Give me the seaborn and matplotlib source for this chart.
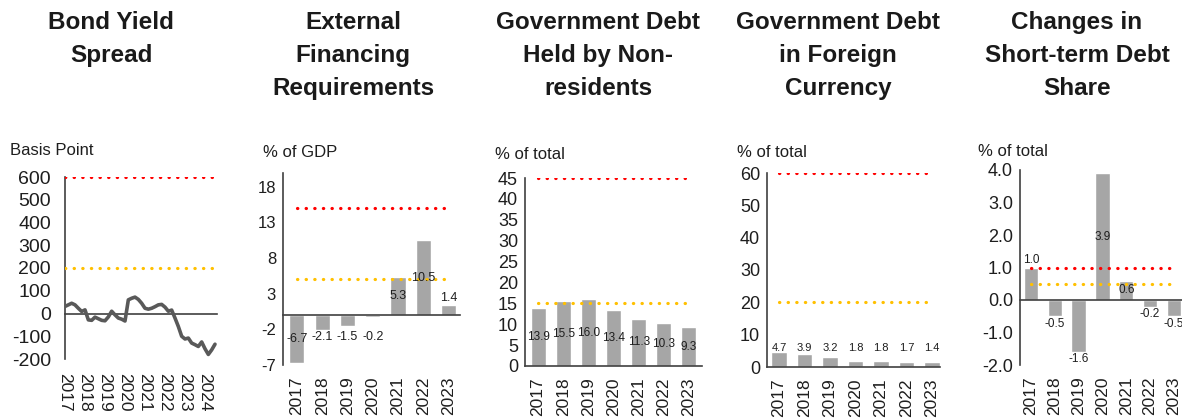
import numpy as np
import pandas as pd
import matplotlib
matplotlib.use("Agg")
import matplotlib.pyplot as plt
import seaborn as sns

sns.set_theme(style="white")
plt.rcParams["font.family"] = ["Liberation Sans", "DejaVu Sans"]
plt.rcParams["axes.unicode_minus"] = False

# ---------------- data ----------------
spread_dates = pd.date_range("2017-01-01", periods=46, freq="2MS")
spread_bp = [31, 38, 45, 38, 23, 9, 16, -28, -30, -16, -23, -30,
             -32, -15, 10, -6, -20, -25, -33, 60, 67, 72, 62, 45,
             23, 19, 23, 30, 38, 40, 28, 10, 15, -20, -57, -100,
             -112, -108, -130, -137, -145, -125, -155, -180, -160, -135]
spread_years = [2017, 2018, 2019, 2020, 2021, 2022, 2023, 2024]
spread_thresholds = [600, 200]

years = ["2017", "2018", "2019", "2020", "2021", "2022", "2023"]
efr = [-6.7, -2.1, -1.5, -0.2, 5.3, 10.5, 1.4]
efr_thresholds = [15, 5]
nonres = [13.9, 15.5, 16.0, 13.4, 11.3, 10.3, 9.3]
nonres_thresholds = [45, 15]
fxdebt = [4.7, 3.9, 3.2, 1.8, 1.8, 1.7, 1.4]
fxdebt_thresholds = [60, 20]
stshare = [1.0, -0.5, -1.6, 3.9, 0.6, -0.2, -0.5]
stshare_thresholds = [1.0, 0.5]

titles = ["Bond Yield\nSpread",
          "External\nFinancing\nRequirements",
          "Government Debt\nHeld by Non-\nresidents",
          "Government Debt\nin Foreign\nCurrency",
          "Changes in\nShort-term Debt\nShare"]
units = ["Basis Point", "% of GDP", "% of total", "% of total", "% of total"]

# ---------------- style ----------------
W, H = 1182, 420
BAR = "#A6A6A6"
LINE = "#595959"
RED = "#FF0000"
YEL = "#FFC000"
SPINE = "#404040"
TXT = "#1e1e1e"
THR_COLORS = [RED, YEL]

fig = plt.figure(figsize=(W / 100, H / 100), dpi=100)


def px_axes(l, r, top, bot):
    return fig.add_axes([l / W, 1 - bot / H, (r - l) / W, (bot - top) / H])


def style_axes(ax, ytick_size):
    for s in ["top", "right"]:
        ax.spines[s].set_visible(False)
    ax.spines["left"].set_color(SPINE)
    ax.spines["left"].set_linewidth(1.2)
    ax.spines["bottom"].set_color(SPINE)
    ax.spines["bottom"].set_linewidth(1.2)
    ax.spines["bottom"].set_position(("data", 0))
    ax.tick_params(axis="y", direction="out", length=3, width=1, color=SPINE,
                   labelsize=ytick_size, labelcolor=TXT, pad=2)
    ax.tick_params(axis="x", which="both", labelbottom=False)
    ax.set_xlabel("")
    ax.set_ylabel("")
    ax.grid(False)
    ax.set_facecolor("none")


def dotted(ax, y, x0=None, x1=None, color=RED):
    kw = dict(color=color, lw=2.3, linestyle=(0, (0.1, 2.6)),
              dash_capstyle="round", zorder=5)
    if x0 is None:
        ax.axhline(y, **kw)
    else:
        ax.plot([x0, x1], [y, y], **kw)


def cat_xaxis(ax, labels, xlim, xsize=12.5):
    n = len(labels)
    ax.set_xlim(*xlim)
    ax.set_xticks(range(n))
    ax.set_xticks([i + 0.5 for i in range(n - 1)], minor=True)
    ax.tick_params(axis="x", which="major", length=0)
    ax.tick_params(axis="x", which="minor", direction="in", length=4,
                   width=1, color=SPINE)
    sec = ax.secondary_xaxis("bottom")
    sec.set_xticks(range(n), labels=labels)
    sec.spines["bottom"].set_visible(False)
    sec.tick_params(axis="x", length=0, pad=8, labelsize=xsize,
                    labelcolor=TXT, labelrotation=90)


def bar_panel(ax, vals, thresholds, ylim, yticks, fmt, ysize, modes, lsize,
              xlim):
    sns.barplot(x=years, y=vals, ax=ax, color=BAR, saturation=1, width=0.6,
                errorbar=None, zorder=2)
    style_axes(ax, ysize)
    ax.set_ylim(*ylim)
    ax.set_yticks(yticks)
    ax.set_yticklabels([fmt.format(t) for t in yticks])
    cat_xaxis(ax, years, xlim)
    for thr, c in zip(thresholds, THR_COLORS):
        dotted(ax, thr, 0, len(years) - 1, c)
    bars = ax.containers[0]
    below_vals = [v for v, m in zip(vals, modes) if m == "low"]
    for i, (b, v, m) in enumerate(zip(bars, vals, modes)):
        xc = b.get_x() + b.get_width() / 2
        lab = f"{v:.1f}"
        if m == "center":
            ax.annotate(lab, (xc, v / 2), ha="center", va="center",
                        fontsize=lsize, color=TXT, zorder=6)
        elif m == "out":
            if v >= 0:
                ax.annotate(lab, (xc, v), xytext=(0, 1),
                            textcoords="offset points", ha="center",
                            va="bottom", fontsize=lsize, color=TXT, zorder=6)
            else:
                ax.annotate(lab, (xc, v), xytext=(0, -1),
                            textcoords="offset points", ha="center",
                            va="top", fontsize=lsize, color=TXT, zorder=6)
        elif m == "low":
            ax.annotate(lab, (xc, min(below_vals)), xytext=(0, -1),
                        textcoords="offset points", ha="center", va="top",
                        fontsize=lsize, color=TXT, zorder=6)
        elif m == "level":
            ax.annotate(lab, (xc, max(vals)), xytext=(0, -1),
                        textcoords="offset points", ha="center",
                        va="bottom", fontsize=lsize, color=TXT, zorder=6)


# ---------------- panel 1: bond yield spread ----------------
ax1 = px_axes(65, 217, 177, 359)
xdec = spread_dates.year + (spread_dates.month - 1) / 12
sns.lineplot(x=np.asarray(xdec), y=spread_bp, ax=ax1, color=LINE, lw=2.6,
             zorder=3)
style_axes(ax1, 14)
ax1.tick_params(axis="y", length=0, pad=10)
ax1.set_ylim(-200, 600)
ax1.set_yticks(range(-200, 601, 100))
ax1.set_xlim(2017.0, 2024.6)
ax1.set_xticks(spread_years)
ax1.tick_params(axis="x", which="major", direction="in", length=4, width=1,
                color=SPINE)
sec1 = ax1.secondary_xaxis("bottom")
sec1.set_xticks(spread_years, labels=[str(y) for y in spread_years])
sec1.spines["bottom"].set_visible(False)
sec1.tick_params(axis="x", length=0, pad=10, labelsize=12.5, labelcolor=TXT,
                 labelrotation=270)
for thr, c in zip(spread_thresholds, THR_COLORS):
    dotted(ax1, thr, color=c)

# ---------------- panel 2 ----------------
ax2 = px_axes(283, 460, 172.5, 365)
bar_panel(ax2, efr, efr_thresholds, (-7, 20), [-7, -2, 3, 8, 13, 18], "{:.0f}",
          12, ["center", "low", "low", "low", "center", "center", "out"], 9,
          (-0.55, 6.45))

# ---------------- panel 3 ----------------
ax3 = px_axes(525, 702, 178, 366)
bar_panel(ax3, nonres, nonres_thresholds, (0, 45), list(range(0, 46, 5)),
          "{:.0f}", 13, ["center"] * 7, 8.5, (-0.52, 6.52))

# ---------------- panel 4 ----------------
ax4 = px_axes(767, 940, 173, 367)
bar_panel(ax4, fxdebt, fxdebt_thresholds, (0, 60), list(range(0, 61, 10)),
          "{:.0f}", 13, ["level"] * 7, 8, (-0.47, 6.31))

# ---------------- panel 5 ----------------
ax5 = px_axes(1020, 1182, 170, 365)
bar_panel(ax5, stshare, stshare_thresholds, (-2, 4),
          [-2, -1, 0, 1, 2, 3, 4], "{:.1f}", 13,
          ["out", "out", "out", "center", "center", "out", "out"], 8.5,
          (-0.46, 6.34))

# ---------------- titles & unit labels ----------------
title_cx = [111, 353, 598, 838, 1077]
for cx, t in zip(title_cx, titles):
    for i, line in enumerate(t.split("\n")):
        fig.text(cx / W, 1 - (29 + 33 * i) / H, line, ha="center",
                 va="baseline", fontsize=17.5, fontweight="bold", color="#1a1a1a")

unit_pos = [(10, 155), (263, 157), (495, 159), (737, 157), (978, 156)]
for (ux, uy), u in zip(unit_pos, units):
    fig.text(ux / W, 1 - uy / H, u, ha="left", va="baseline", fontsize=12,
             color=TXT)

fig.savefig("out.png", dpi=100, facecolor="white")
